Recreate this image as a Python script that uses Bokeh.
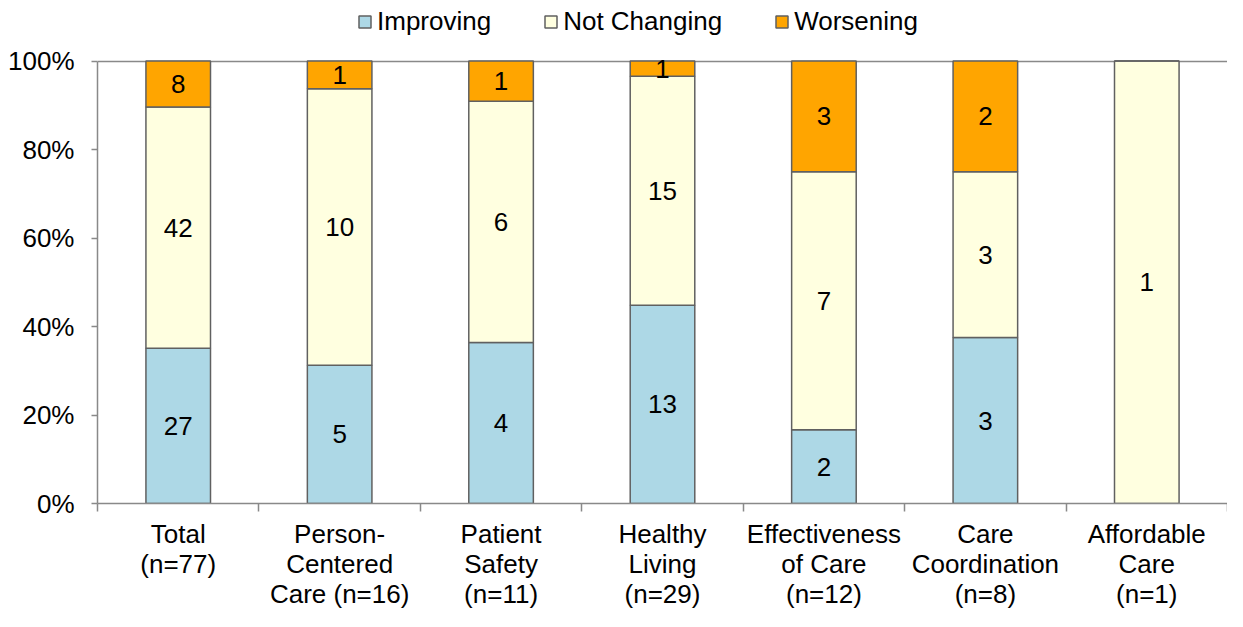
from bokeh.plotting import figure
from bokeh.models import ColumnDataSource, Range1d, FixedTicker, NumeralTickFormatter, Legend
from bokeh.core.properties import value
from bokeh.embed import file_html
from bokeh.resources import INLINE

categories = ["Total\n(n=77)", "Person-\nCentered\nCare (n=16)", "Patient\nSafety\n(n=11)",
              "Healthy\nLiving\n(n=29)", "Effectiveness\nof Care\n(n=12)", "Care\nCoordination\n(n=8)",
              "Affordable\nCare\n(n=1)"]
improving = [27, 5, 4, 13, 2, 3, 0]
not_changing = [42, 10, 6, 15, 7, 3, 1]
worsening = [8, 1, 1, 1, 3, 2, 0]
series_names = ["Improving", "Not Changing", "Worsening"]
colors = ["#ADD8E6", "#FFFFE0", "#FFA500"]
y_ticks = [0, 0.2, 0.4, 0.6, 0.8, 1.0]

FONT = "Liberation Sans"
FS = "26px"
n = len(categories)
xs = [i + 0.5 for i in range(n)]
totals = [a + b + c for a, b, c in zip(improving, not_changing, worsening)]
fi = [a / t for a, t in zip(improving, totals)]
fn = [b / t for b, t in zip(not_changing, totals)]
fw = [c / t for c, t in zip(worsening, totals)]

src = ColumnDataSource(dict(x=xs, imp=fi, nch=fn, wor=fw))

p = figure(width=1227, height=611, output_backend="svg", toolbar_location=None,
           x_range=Range1d(0, n), y_range=Range1d(0, 1.13),
           min_border_left=97, min_border_right=0, min_border_top=3, min_border_bottom=104)
p.outline_line_color = None

renderers = p.vbar_stack(["imp", "nch", "wor"], x="x", width=0.4, source=src,
                         fill_color=colors, line_color="#606060", line_width=1.5)

# labels
lx, ly, lt = [], [], []
for i in range(n):
    base = 0.0
    for cnt, frac in ((improving[i], fi[i]), (not_changing[i], fn[i]), (worsening[i], fw[i])):
        if cnt > 0:
            lx.append(xs[i]); ly.append(base + frac / 2); lt.append(str(cnt))
        base += frac
p.text(x=lx, y=ly, text=lt, text_align="center", text_baseline="middle",
       text_font=value(FONT), text_font_size=FS, text_color="#000000")

# axes
p.yaxis.ticker = FixedTicker(ticks=y_ticks)
p.yaxis.bounds = (0, 1)
p.yaxis.formatter = NumeralTickFormatter(format="0%")
p.yaxis.major_label_text_font = FONT
p.yaxis.major_label_text_font_size = FS
p.yaxis.major_label_text_color = "#000000"
p.yaxis.major_tick_out = 6
p.yaxis.major_tick_in = 0
p.yaxis.minor_tick_line_color = None
p.yaxis.major_tick_line_color = "#898989"
p.yaxis.major_tick_line_width = 1.5
p.yaxis.axis_line_color = "#898989"
p.yaxis.axis_line_width = 1.5
p.yaxis.major_label_standoff = 17

p.xaxis.ticker = FixedTicker(ticks=xs, minor_ticks=list(range(n + 1)))
p.xaxis.major_label_overrides = {x: c for x, c in zip(xs, categories)}
p.xaxis.major_label_text_font = FONT
p.xaxis.major_label_text_font_size = FS
p.xaxis.major_label_text_color = "#000000"
p.xaxis.major_label_text_line_height = 1.0
p.xaxis.major_tick_line_color = None
p.xaxis.minor_tick_line_color = "#898989"
p.xaxis.minor_tick_line_width = 1.5
p.xaxis.minor_tick_out = 8
p.xaxis.minor_tick_in = 0
p.xaxis.axis_line_color = "#898989"
p.xaxis.axis_line_width = 1.5
p.xaxis.major_label_standoff = 7

p.xgrid.grid_line_color = None
p.ygrid.ticker = FixedTicker(ticks=[1.0])
p.ygrid.grid_line_color = "#898989"
p.ygrid.grid_line_width = 1.5

legend = Legend(items=[(nm, [r]) for nm, r in zip(series_names, renderers)],
                orientation="horizontal", location=(260, 466))
legend.label_text_font = FONT
legend.label_text_font_size = FS
legend.label_text_color = "#000000"
legend.glyph_width = 15
legend.glyph_height = 15
legend.label_standoff = 5
legend.spacing = 52
legend.border_line_color = None
legend.background_fill_alpha = 0
legend.padding = 0
legend.margin = 0
p.add_layout(legend, "center")

open("out.html", "w").write(file_html(p, INLINE))
